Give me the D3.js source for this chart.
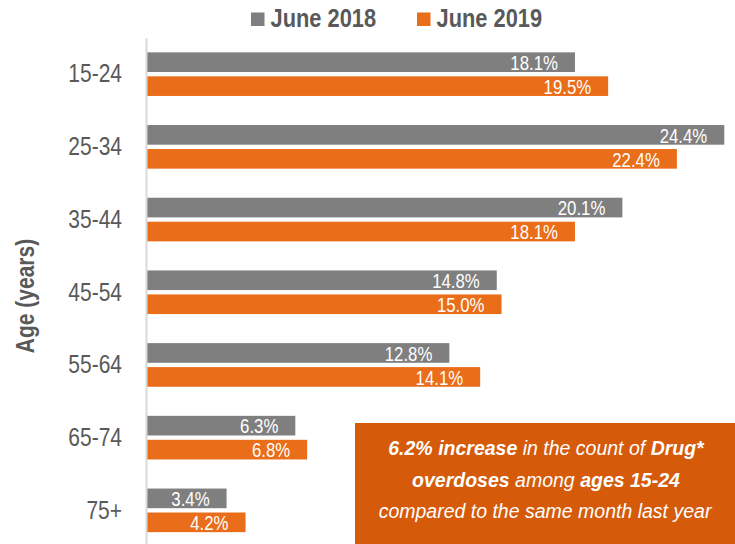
<!DOCTYPE html>
<html lang="en">
  <head>
    <meta charset="UTF-8" />
    <title>Drug overdoses by age</title>
    <style>
      body { margin: 0; background: #fff; }
      svg { display: block; font-family: "Liberation Sans", Arial, sans-serif; }
    </style>
  </head>
  <body>
    <div id="chart"></div>

    <script src="https://cdn.jsdelivr.net/npm/d3@7"></script>
    <script>

      var ageGroups = ["15-24", "25-34", "35-44", "45-54", "55-64", "65-74", "75+"];
      var seriesNames = ["June 2018", "June 2019"];
      var june2018 = [18.1, 24.4, 20.1, 14.8, 12.8, 6.3, 3.4];
      var june2019 = [19.5, 22.4, 18.1, 15.0, 14.1, 6.8, 4.2];

      var w = 735,
          h = 544;
      var colors = ["#7f7f7f", "#ea6d19"];
      var textGray = "#595959";
      // no narrow font installed, so squeeze text horizontally
      var narrow = 0.84;

      var data = ageGroups.map(function(g, i) {
        return { group: g, values: [june2018[i], june2019[i]] };
      });

      var svg = d3.select("#chart").append("svg")
                  .attr("width", w)
                  .attr("height", h);

      var xScale = d3.scaleLinear()
                     .domain([0, 25])
                     .range([146, 738.5]);
      var yScale = d3.scaleBand()
                     .domain(ageGroups)
                     .range([37.8, 546.7])
                     .paddingInner(0.4)
                     .paddingOuter(0.2);
      var subScale = d3.scaleBand()
                       .domain(seriesNames)
                       .range([0, yScale.bandwidth()])
                       .paddingInner(0.18);

      var groups = svg.selectAll(".group")
                      .data(data)
                      .enter()
                      .append("g")
                      .attr("class", "group")
                      .attr("transform", function(d) { return "translate(0," + yScale(d.group) + ")"; });

      groups.selectAll("rect")
            .data(function(d) { return d.values; })
            .enter()
            .append("rect")
            .attr("x", xScale(0))
            .attr("y", function(d, i) { return subScale(seriesNames[i]); })
            .attr("width", function(d) { return xScale(d) - xScale(0); })
            .attr("height", subScale.bandwidth())
            .attr("fill", function(d, i) { return colors[i]; });

      groups.selectAll("text")
            .data(function(d) { return d.values; })
            .enter()
            .append("text")
            .attr("transform", function(d, i) {
              var tx = xScale(d) - 17,
                  ty = subScale(seriesNames[i]) + subScale.bandwidth() - 2;
              return "translate(" + tx + "," + ty + ")scale(" + narrow + ",1)";
            })
            .attr("text-anchor", "end")
            .attr("fill", "#fff")
            .style("font-size", "20px")
            .text(function(d) { return d.toFixed(1) + "%"; });

      // category axis
      var yAxis = d3.axisLeft(yScale)
                    .tickSize(0)
                    .tickPadding(24);
      var axisG = svg.append("g")
                     .attr("class", "y-axis")
                     .attr("transform", "translate(" + xScale(0) + ",0)")
                     .call(yAxis);
      axisG.select(".domain")
           .attr("stroke", "#d9d9d9")
           .attr("stroke-width", 2);
      axisG.selectAll("text")
           .attr("fill", textGray)
           .attr("x", -24 / narrow)
           .attr("transform", "scale(" + narrow + ",1)")
           .attr("dy", "0.33em")
           .style("font-family", "inherit")
           .style("font-size", "25px");

      svg.append("text")
         .attr("text-anchor", "middle")
         .attr("transform", "translate(34,296)rotate(-90)scale(" + narrow + ",1)")
         .attr("fill", textGray)
         .style("font-size", "25px")
         .style("font-weight", "bold")
         .text("Age (years)");

      // legend
      var legendX = [251, 417];
      var legend = svg.selectAll(".legend")
                      .data(seriesNames)
                      .enter()
                      .append("g")
                      .attr("class", "legend")
                      .attr("transform", function(d, i) { return "translate(" + legendX[i] + ",0)"; });
      legend.append("rect")
            .attr("x", 0)
            .attr("y", 12.5)
            .attr("width", 13.5)
            .attr("height", 13.5)
            .attr("fill", function(d, i) { return colors[i]; });
      legend.append("text")
            .attr("transform", "translate(19.5,26.5)scale(" + narrow + ",1)")
            .attr("fill", textGray)
            .style("font-size", "26px")
            .style("font-weight", "bold")
            .text(function(d) { return d; });

      // annotation box
      svg.append("rect")
         .attr("x", 355)
         .attr("y", 423)
         .attr("width", 390)
         .attr("height", 130)
         .attr("fill", "#d55a0a");

      var note = svg.append("text")
                    .attr("text-anchor", "middle")
                    .attr("fill", "#fff")
                    .style("font-size", "19.5px")
                    .style("font-style", "italic");
      var line1 = note.append("tspan").attr("x", 546).attr("y", 455);
      line1.append("tspan").style("font-weight", "bold").text("6.2% increase");
      line1.append("tspan").text(" in the count of ");
      line1.append("tspan").style("font-weight", "bold").text("Drug*");
      var line2 = note.append("tspan").attr("x", 546).attr("y", 487);
      line2.append("tspan").style("font-weight", "bold").text("overdoses");
      line2.append("tspan").text(" among ");
      line2.append("tspan").style("font-weight", "bold").text("ages 15-24");
      note.append("tspan").attr("x", 545).attr("y", 518)
          .text("compared to the same month last year");

    </script>
  </body>
</html>
